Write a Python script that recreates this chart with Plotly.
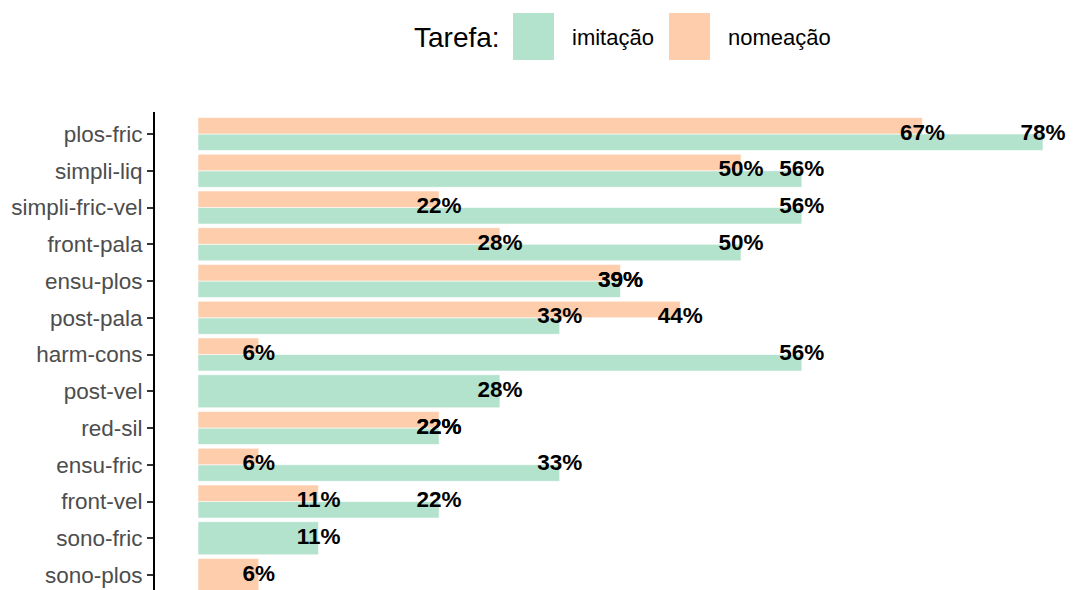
import plotly.graph_objects as go

categories = ["plos-fric", "simpli-liq", "simpli-fric-vel", "front-pala", "ensu-plos",
              "post-pala", "harm-cons", "post-vel", "red-sil", "ensu-fric",
              "front-vel", "sono-fric", "sono-plos"]
imitacao = [77.8, 55.6, 55.6, 50.0, 38.9, 33.3, 55.6, 27.8, 22.2, 33.3, 22.2, 11.1, 0]
nomeacao = [66.7, 50.0, 22.2, 27.8, 38.9, 44.4, 5.6, 0, 22.2, 5.6, 11.1, 0, 5.6]
series_names = ["imitação", "nomeação"]
legend_title = "Tarefa:"

GREEN = "#b3e2cd"
ORANGE = "#fdcdac"
FONT = "Liberation Sans"

OFF = 8  # page body offset
W, H = 1074, 590
ML, MR, MT, MB = 155 - OFF, 0, 112 - OFF, 0
pw, ph = W - ML - MR, H - MT - MB

# x scale: 0 -> px 198, 77.8 -> px 1043 (target picture coords)
ppu = (1043 - 198) / 77.8
x0 = -(198 - 155) / ppu
x1 = x0 + pw / ppu

n = len(categories)
step = 36.75
ytop = (n - 1) + (134 - 112) / step
ybot = ytop - ph / step

GW = 0.9  # dodge group width

def dodge(vals, other, lower):
    ys, xs, offs, wids = [], [], [], []
    for c, v, o in zip(categories, vals, other):
        if v <= 0:
            continue
        ys.append(c)
        xs.append(v)
        if o > 0:
            offs.append(-GW / 2 if lower else 0.0)
            wids.append(GW / 2)
        else:
            offs.append(-GW / 2)
            wids.append(GW)
    return ys, xs, offs, wids

fig = go.Figure()
for vals, other, lower, col, name in ((imitacao, nomeacao, True, GREEN, series_names[0]),
                                      (nomeacao, imitacao, False, ORANGE, series_names[1])):
    ys, xs, offs, wids = dodge(vals, other, lower)
    fig.add_trace(go.Bar(y=ys, x=xs, orientation="h", name=name,
                         offset=offs, width=wids,
                         marker=dict(color=col, line=dict(color="white", width=0.6)),
                         showlegend=False))

for vals in (imitacao, nomeacao):
    ys = [c for c, v in zip(categories, vals) if v > 0]
    xs = [v for v in vals if v > 0]
    fig.add_trace(go.Scatter(y=ys, x=xs, mode="text", text=[f"{round(v)}%" for v in xs],
                             textposition="middle center",
                             textfont=dict(family=FONT, size=22.5, color="black", weight="bold"),
                             showlegend=False, hoverinfo="skip", cliponaxis=False))

fig.update_layout(
    width=W, height=H,
    margin=dict(l=ML, r=MR, t=MT, b=MB, pad=0),
    plot_bgcolor="white", paper_bgcolor="white",
    barmode="overlay",
    font=dict(family=FONT),
    xaxis=dict(range=[x0, x1], visible=False, showgrid=False, zeroline=False),
    yaxis=dict(categoryorder="array", categoryarray=categories[::-1],
               range=[ybot, ytop], showgrid=False, zeroline=False, automargin=False,
               showline=True, linecolor="black", linewidth=2,
               ticks="outside", ticklen=6, tickwidth=2, tickcolor="#333333",
               tickfont=dict(family=FONT, size=22.5, color="#4d4d4d")),
)

def px2paper_x(px):
    return (px - OFF - ML) / pw

def py2paper_y(py):
    return (H - MB - (py - OFF)) / ph

# legend (drawn as annotations/shapes above the plot)
fig.add_annotation(x=px2paper_x(412), y=py2paper_y(38), xref="paper", yref="paper",
                   text=legend_title, showarrow=False, xanchor="left", yanchor="middle",
                   font=dict(family=FONT, size=28, color="black"))
keys = [(513, 554, GREEN, 570, series_names[0]), (669, 710, ORANGE, 726, series_names[1])]
for kx0, kx1, col, tx, label in keys:
    fig.add_shape(type="rect", xref="paper", yref="paper",
                  x0=px2paper_x(kx0), x1=px2paper_x(kx1),
                  y0=py2paper_y(60), y1=py2paper_y(13),
                  fillcolor=col, line=dict(width=0))
    fig.add_annotation(x=px2paper_x(tx), y=py2paper_y(38), xref="paper", yref="paper",
                       text=label, showarrow=False, xanchor="left", yanchor="middle",
                       font=dict(family=FONT, size=22, color="black"))

fig.write_html("out.html")
